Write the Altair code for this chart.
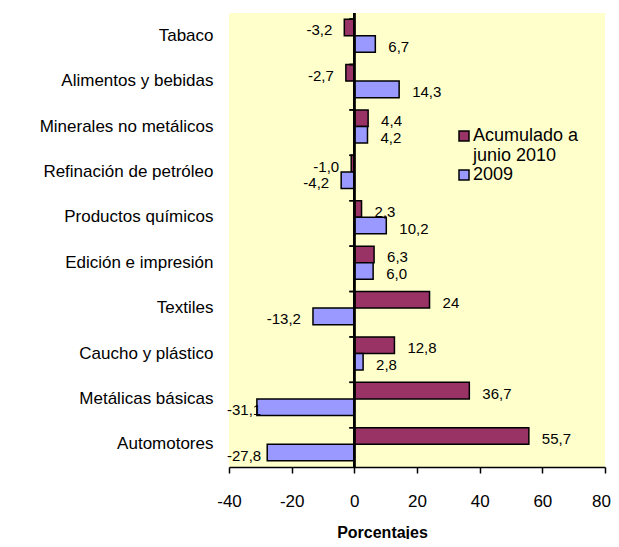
import altair as alt
import pandas as pd

categories = ["Tabaco", "Alimentos y bebidas", "Minerales no metálicos",
              "Refinación de petróleo", "Productos químicos", "Edición e impresión",
              "Textiles", "Caucho y plástico", "Metálicas básicas", "Automotores"]
series_names = ["Acumulado a junio 2010", "2009"]
acumulado = [-3.2, -2.7, 4.4, -1.0, 2.3, 6.3, 24.0, 12.8, 36.7, 55.7]
acumulado_labels = ["-3,2", "-2,7", "4,4", "-1,0", "2,3", "6,3", "24", "12,8", "36,7", "55,7"]
y2009 = [6.7, 14.3, 4.2, -4.2, 10.2, 6.0, -13.2, 2.8, -31.1, -27.8]
y2009_labels = ["6,7", "14,3", "4,2", "-4,2", "10,2", "6,0", "-13,2", "2,8", "-31,1", "-27,8"]
x_ticks = [-40, -20, 0, 20, 40, 60, 80]

rows = []
for c, v, l in zip(categories, acumulado, acumulado_labels):
    rows.append({"cat": c, "serie": series_names[0], "v": v, "lab": l})
for c, v, l in zip(categories, y2009, y2009_labels):
    rows.append({"cat": c, "serie": series_names[1], "v": v, "lab": l})
df = pd.DataFrame(rows)

FONT = "Liberation Sans"
W, H = 376, 454

yscale = alt.Scale(domain=categories, paddingInner=0.27, paddingOuter=0.135)
xscale = alt.Scale(domain=[-40, 80], nice=False, zero=False)
color = alt.Color("serie:N", scale=alt.Scale(domain=series_names, range=["#993366", "#9999FF"]),
                  legend=alt.Legend(title=None, orient="none", legendX=226, legendY=114,
                                    symbolType="square", symbolSize=100,
                                    symbolStrokeColor="black", symbolStrokeWidth=1.5,
                                    labelFontSize=18, labelFont=FONT, labelColor="black",
                                    labelLimit=400, rowPadding=1, labelOffset=0,
                                    labelExpr="datum.label == 'Acumulado a junio 2010' ? ['Acumulado a', 'junio 2010'] : datum.label"))
yoff = alt.YOffset("serie:N", scale=alt.Scale(domain=series_names, paddingInner=0, paddingOuter=0))

base = alt.Chart(df)

bars = base.mark_bar(stroke="black", strokeWidth=1.5).encode(
    y=alt.Y("cat:N", scale=yscale, sort=categories,
            axis=alt.Axis(title=None, domain=False, ticks=False, labelPadding=16,
                          labelFontSize=17, labelFont=FONT, labelColor="black", labelLimit=400)),
    x=alt.X("v:Q", scale=xscale,
            axis=alt.Axis(values=x_ticks, grid=False, title="Porcentajes", titleFontWeight="bold",
                          titleFontSize=16, titleFont=FONT, titleColor="black",
                          titleX=153, titleY=65, titleAlign="center", titleBaseline="middle",
                          labelFontSize=17, labelFont=FONT, labelColor="black", labelPadding=20,
                          labelExpr="'' + datum.value",
                          labelOffset={"condition": {"test": "datum.value == 80", "value": -4}, "value": 0},
                          labelFlush=False, tickSize=6, tickColor="black", tickWidth=1.5,
                          domainColor="black", domainWidth=1.5)),
    x2=alt.datum(0),
    yOffset=yoff,
    color=color,
)

tcommon = dict(fontSize=15, font=FONT, color="black", baseline="middle", dy=3)

pos_labels = base.transform_filter("datum.v >= 0").mark_text(align="left", dx=13, **tcommon).encode(
    y=alt.Y("cat:N", scale=yscale, sort=categories), yOffset=yoff,
    x=alt.X("v:Q", scale=xscale), text="lab:N")
neg_labels = base.transform_filter("datum.v < 0 && datum.v > -25").mark_text(align="right", dx=-12, **tcommon).encode(
    y=alt.Y("cat:N", scale=yscale, sort=categories), yOffset=yoff,
    x=alt.X("v:Q", scale=xscale), text="lab:N")
edge_labels = base.transform_filter("datum.v <= -25").mark_text(align="left", dx=-2, **tcommon).encode(
    y=alt.Y("cat:N", scale=yscale, sort=categories), yOffset=yoff,
    x=alt.value(0), text="lab:N")

zero_line = base.mark_rule(color="black", strokeWidth=1.5).encode(
    x=alt.datum(0, scale=xscale), y=alt.value(0), y2=alt.value(H))
zero_ticks = base.mark_rule(color="black", strokeWidth=1.5, x2Offset=-5).encode(
    x=alt.datum(0, scale=xscale), x2=alt.datum(0),
    y=alt.Y("cat:N", scale=yscale, sort=categories, bandPosition=0))

chart = alt.layer(bars, zero_line, zero_ticks, pos_labels, neg_labels, edge_labels).properties(
    width=W, height=H,
    autosize=alt.AutoSizeParams(type="none"),
    padding={"left": 221, "top": 5, "right": 6, "bottom": 72},
    background="white",
).configure_view(fill="#FFFFCC", stroke=None)

chart.save("out.html", embed_options={"renderer": "svg", "actions": False})
